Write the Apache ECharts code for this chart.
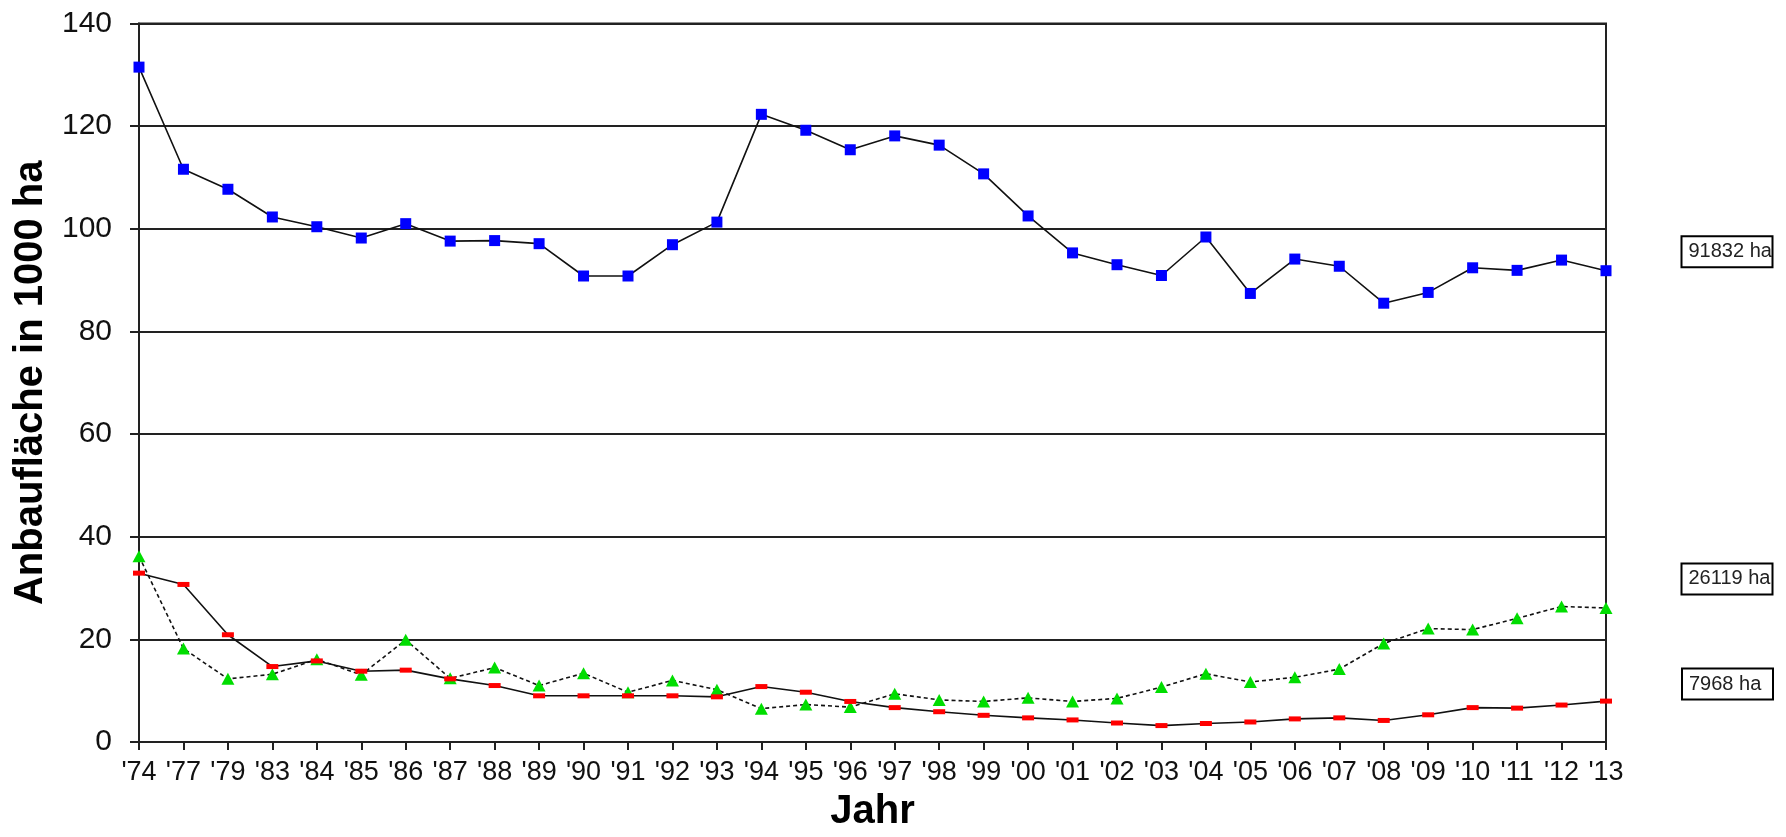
<!DOCTYPE html>
<html>
<head>
<meta charset="utf-8">
<script src="https://cdn.jsdelivr.net/npm/echarts@6/dist/echarts.min.js"></script>
<style>
html,body{margin:0;padding:0;background:#fff;}
#chart{width:1786px;height:837px;}
</style>
</head>
<body>
<div id="chart"></div>
<script>
// Categories (years)
const years = ["'74","'77","'79","'83","'84","'85","'86","'87","'88","'89","'90","'91","'92","'93","'94","'95","'96","'97","'98","'99","'00","'01","'02","'03","'04","'05","'06","'07","'08","'09","'10","'11","'12","'13"];
// Series values in 1000 ha
const blueSeries = [131.5,111.6,107.7,102.3,100.4,98.2,101.0,97.6,97.7,97.1,90.8,90.8,96.9,101.3,122.3,119.2,115.4,118.1,116.3,110.7,102.5,95.3,93.0,90.9,98.4,87.4,94.1,92.7,85.5,87.6,92.4,91.9,93.9,91.832];
const redSeries = [32.9,30.7,20.9,14.7,15.8,13.8,14.0,12.3,11.0,9.0,9.0,9.0,9.0,8.8,10.8,9.7,7.9,6.7,5.9,5.2,4.7,4.3,3.7,3.2,3.6,3.9,4.5,4.7,4.2,5.3,6.7,6.6,7.2,7.968];
const greenSeries = [36.2,18.2,12.3,13.2,16.1,13.1,19.9,12.4,14.5,11.0,13.4,9.7,12.0,10.2,6.5,7.3,6.8,9.4,8.2,7.9,8.6,7.9,8.5,10.7,13.3,11.7,12.6,14.2,19.2,22.1,21.9,24.1,26.4,26.119];
// Y-axis ticks
const yTicks = [0,20,40,60,80,100,120,140];

const FONT = '"Liberation Sans", Arial, sans-serif';

function endLabel(dist, dy) {
  return {
    show: true,
    position: 'right',
    distance: dist,
    offset: [0, dy],
    formatter: p => Math.round(p.value * 1000) + ' ha',
    fontFamily: FONT,
    fontSize: 20,
    lineHeight: 23,
    color: '#222',
    backgroundColor: '#fff',
    borderColor: '#000',
    borderWidth: 2,
    padding: [3, 1, 3, 6],
    width: 82,
    overflow: 'none',
    align: 'left'
  };
}
function withEndLabel(arr, lbl) {
  return arr.map((v, i) => i === arr.length - 1 ? { value: v, label: lbl } : v);
}

const chart = echarts.init(document.getElementById('chart'), null, { renderer: 'canvas' });
chart.setOption({
  animation: false,
  backgroundColor: '#fff',
  grid: {
    left: 139, right: 180, top: 23.5, bottom: 87.5,
    show: true, borderColor: '#222', borderWidth: 2, backgroundColor: 'transparent'
  },
  xAxis: {
    type: 'category',
    data: years,
    boundaryGap: false,
    axisLine: { show: true, lineStyle: { color: '#222', width: 2 } },
    axisTick: { show: true, length: 8, interval: 0, lineStyle: { color: '#222', width: 2 } },
    axisLabel: { interval: 0, fontFamily: FONT, fontSize: 27, color: '#111', margin: 17 },
    splitLine: { show: false },
    name: 'Jahr',
    nameLocation: 'middle',
    nameGap: 50,
    nameTextStyle: { fontFamily: FONT, fontSize: 40, fontWeight: 'bold', color: '#000' }
  },
  yAxis: {
    type: 'value',
    min: yTicks[0],
    max: yTicks[yTicks.length - 1],
    interval: yTicks[1] - yTicks[0],
    axisLine: { show: true, lineStyle: { color: '#222', width: 2 } },
    axisTick: { show: true, length: 9, lineStyle: { color: '#222', width: 2 } },
    axisLabel: { fontFamily: FONT, fontSize: 30, color: '#111', margin: 27 },
    splitLine: { show: true, lineStyle: { color: '#222', width: 2 } },
    name: 'Anbaufläche in 1000 ha',
    nameLocation: 'middle',
    nameGap: 82,
    nameTextStyle: { fontFamily: FONT, fontSize: 40, fontWeight: 'bold', color: '#000' }
  },
  series: [
    {
      name: 'blue',
      type: 'line',
      data: withEndLabel(blueSeries, endLabel(71, -19)),
      symbol: 'rect',
      symbolSize: 11,
      showAllSymbol: true,
      itemStyle: { color: '#0000ff' },
      lineStyle: { color: '#111', width: 1.6 },
      z: 3
    },
    {
      name: 'green',
      type: 'line',
      data: withEndLabel(greenSeries, endLabel(70, -29)),
      symbol: 'triangle',
      symbolSize: [13, 12],
      showAllSymbol: true,
      itemStyle: { color: '#00dd00' },
      lineStyle: { color: '#111', width: 1.6, type: [4, 3] },
      z: 3
    },
    {
      name: 'red',
      type: 'line',
      data: withEndLabel(redSeries, endLabel(71, -17)),
      symbol: 'rect',
      symbolSize: [12, 5],
      showAllSymbol: true,
      itemStyle: { color: '#ff0000' },
      lineStyle: { color: '#111', width: 1.6 },
      z: 4
    }
  ]
});
</script>
</body>
</html>
